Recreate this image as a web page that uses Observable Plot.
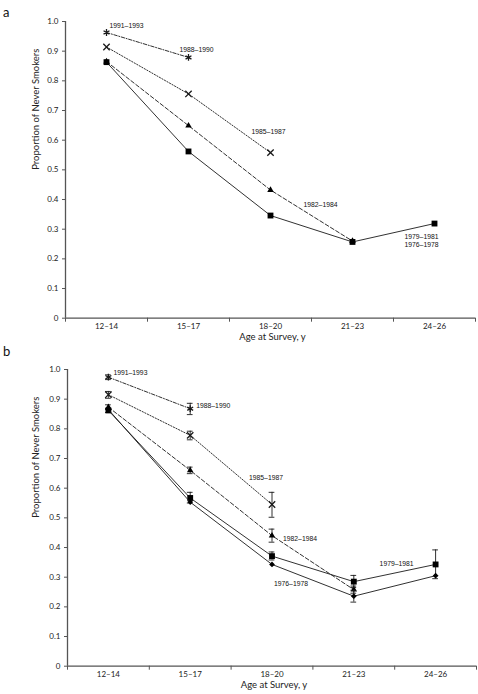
<!DOCTYPE html>
<html><head><meta charset="utf-8">
<script src="https://cdn.jsdelivr.net/npm/d3@7"></script>
<script src="https://cdn.jsdelivr.net/npm/@observablehq/plot@0.6"></script>
<style>
body{margin:0;background:#fff;}
#wrap{position:relative;width:478px;height:694px;overflow:hidden;font-family:Lato,"Open Sans",sans-serif;}
.panel{position:absolute;left:0;}
.tag{position:absolute;left:3px;font-size:13px;line-height:13px;color:#111;z-index:2;}
</style></head><body>
<div id="wrap">
 <div class="panel" id="pa" style="top:0"></div>
 <div class="panel" id="pb" style="top:348px"></div>
 <div class="tag" style="top:6px">a</div>
 <div class="tag" style="top:345px">b</div>
</div>
<script>
// ---------- data ----------
const ages = ["12–14", "15–17", "18–20", "21–23", "24–26"];
const yTicks = [0, 0.1, 0.2, 0.3, 0.4, 0.5, 0.6, 0.7, 0.8, 0.9, 1.0];
const cohortLabels = ["1991–1993", "1988–1990", "1985–1987", "1982–1984", "1979–1981", "1976–1978"];

// panel a
const aTop      = [0.963, 0.879];
const aCross    = [0.914, 0.756, 0.558];
const aTriangle = [0.865, 0.649, 0.432, 0.260];
const aSquare   = [0.863, 0.562, 0.346, 0.257, 0.319];

// panel b (estimates and 95% CI)
const bTop        = [0.974, 0.868];
const bTopLo      = [0.966, 0.848];
const bTopHi      = [0.982, 0.886];
const bCross      = [0.915, 0.778, 0.545];
const bCrossLo    = [0.903, 0.763, 0.502];
const bCrossHi    = [0.926, 0.792, 0.586];
const bTriangle   = [0.873, 0.660, 0.440, 0.258];
const bTriangleLo = [0.865, 0.649, 0.418, 0.246];
const bTriangleHi = [0.881, 0.671, 0.462, 0.270];
const bSquare     = [0.862, 0.567, 0.371, 0.285, 0.343];
const bSquareLo   = [0.855, 0.550, 0.358, 0.265, 0.295];
const bSquareHi   = [0.869, 0.586, 0.385, 0.306, 0.392];
const bDiamond    = [0.865, 0.553, 0.343, 0.236, 0.305];
const bDiamondLo  = [null, null, null, 0.216, null];
const bDiamondHi  = [null, null, null, 0.256, null];

// ---------- styles ----------
const INK = "#1a1a1a";
const AXIS = "#555";
const styles = {
  top:      {symbol: "asterisk", dash: "3.5,1.6,1,1.6", r: 3.2, filled: false},
  cross:    {symbol: "times",    dash: "1.3,1.6",       r: 3.0, filled: false},
  triangle: {symbol: "triangle", dash: "4,2.2",         r: 2.4, filled: true},
  square:   {symbol: "square",   dash: null,            r: 3.3, filled: true},
  diamond:  {symbol: "diamond2", dash: null,            r: 2.6, filled: true}
};

function rows(vals, lo, hi) {
  return vals.map((v, i) => ({x: i + 0.5, v, lo: lo ? lo[i] : null, hi: hi ? hi[i] : null}));
}

function panel({series, labels, height, marginLeft, marginRight, marginBottom}) {
  const marks = [];
  // axes
  marks.push(Plot.axisY({ticks: yTicks, tickFormat: d => d === 0 ? "0" : d.toFixed(1),
    tickSize: 3, tickPadding: 4, stroke: AXIS, fill: "#222", label: null}));
  marks.push(Plot.axisX({ticks: [0, 1, 2, 3, 4, 5], tickFormat: () => "", tickSize: 4, stroke: AXIS, label: null}));
  marks.push(Plot.axisX({ticks: [0.5, 1.5, 2.5, 3.5, 4.5], tickFormat: d => ages[Math.round(d - 0.5)],
    tickSize: 0, tickPadding: 5, fill: "#222", label: null}));
  marks.push(Plot.ruleX([0], {stroke: AXIS, strokeWidth: 1.3}));
  marks.push(Plot.ruleY([0], {stroke: AXIS, strokeWidth: 1.3}));
  marks.push(Plot.text(["Proportion of Never Smokers"], {frameAnchor: "left", rotate: -90, dx: -(marginLeft - 35), fontSize: 9.5, fill: "#222"}));
  marks.push(Plot.text(["Age at Survey, y"], {frameAnchor: "bottom", dy: 22, dx: 2, fontSize: 9.5, fill: "#222"}));
  // series
  for (const s of series) {
    const st = styles[s.kind];
    const data = rows(s.values, s.lo, s.hi);
    marks.push(Plot.line(data, {x: "x", y: "v", stroke: INK, strokeWidth: 0.9, strokeDasharray: st.dash}));
    const err = data.filter(d => d.lo != null && d.hi != null);
    if (err.length) {
      marks.push(Plot.ruleX(err, {x: "x", y1: "lo", y2: "hi", stroke: INK, strokeWidth: 0.9}));
      marks.push(Plot.ruleY(err, {y: "lo", x1: d => d.x - 0.035, x2: d => d.x + 0.035, stroke: INK, strokeWidth: 0.9}));
      marks.push(Plot.ruleY(err, {y: "hi", x1: d => d.x - 0.035, x2: d => d.x + 0.035, stroke: INK, strokeWidth: 0.9}));
    }
    marks.push(Plot.dot(data, {x: "x", y: "v", symbol: st.symbol, r: st.r,
      fill: st.filled ? "#000" : "none", stroke: st.filled ? "none" : INK, strokeWidth: 1.3}));
  }
  // labels
  for (const L of labels) {
    const s = series.find(q => q.kind === L.kind);
    marks.push(Plot.text([{x: L.i + 0.5, v: s.values[L.i], t: cohortLabels[L.label]}],
      {x: "x", y: "v", text: "t", dx: L.dx, dy: L.dy, textAnchor: "start",
       fontFamily: "'Liberation Sans', Arial, sans-serif", fontSize: 6.8, fill: "#111"}));
  }
  return Plot.plot({
    width: 478, height, marginLeft, marginRight, marginTop: 21, marginBottom,
    x: {type: "linear", domain: [0, 5]},
    y: {domain: [0, 1]},
    style: {fontFamily: "Lato, 'Open Sans', sans-serif", fontSize: "8px", background: "transparent", color: "#222"},
    marks
  });
}

const A = panel({
  height: 348, marginLeft: 65, marginRight: 3, marginBottom: 30.3,
  series: [
    {kind: "top", values: aTop},
    {kind: "cross", values: aCross},
    {kind: "triangle", values: aTriangle},
    {kind: "square", values: aSquare}
  ],
  labels: [
    {label: 0, kind: "top", i: 0, dx: 3, dy: -7},
    {label: 1, kind: "top", i: 1, dx: -9, dy: -8},
    {label: 2, kind: "cross", i: 2, dx: -19, dy: -21},
    {label: 3, kind: "triangle", i: 2, dx: 33, dy: 15},
    {label: 4, kind: "square", i: 4, dx: -30, dy: 13},
    {label: 5, kind: "square", i: 4, dx: -30, dy: 21}
  ]
});
document.getElementById("pa").append(A);

const B = panel({
  height: 346, marginLeft: 67, marginRight: 2, marginBottom: 28.3,
  series: [
    {kind: "top", values: bTop, lo: bTopLo, hi: bTopHi},
    {kind: "cross", values: bCross, lo: bCrossLo, hi: bCrossHi},
    {kind: "triangle", values: bTriangle, lo: bTriangleLo, hi: bTriangleHi},
    {kind: "square", values: bSquare, lo: bSquareLo, hi: bSquareHi},
    {kind: "diamond", values: bDiamond, lo: bDiamondLo, hi: bDiamondHi}
  ],
  labels: [
    {label: 0, kind: "top", i: 0, dx: 5, dy: -4},
    {label: 1, kind: "top", i: 1, dx: 6, dy: -3},
    {label: 2, kind: "cross", i: 2, dx: -23, dy: -27},
    {label: 3, kind: "triangle", i: 2, dx: 11, dy: 3},
    {label: 4, kind: "square", i: 4, dx: -56, dy: -1},
    {label: 5, kind: "diamond", i: 2, dx: 2, dy: 19}
  ]
});
document.getElementById("pb").append(B);
</script>
</body></html>
